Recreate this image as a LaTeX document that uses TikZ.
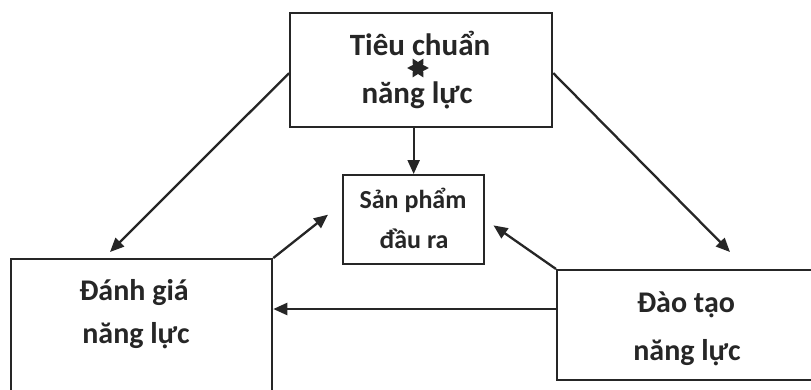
\documentclass[tikz,border=0pt]{standalone}
\usepackage{fontspec}
\setmainfont{Carlito}
\usetikzlibrary{arrows.meta,shapes.geometric,calc}
\definecolor{ink}{HTML}{262626}
\begin{document}
\begin{tikzpicture}[x=1pt,y=-1pt,
  box/.style={draw=ink,line width=2.3pt,rectangle,inner sep=0pt,anchor=north west},
  lbl/.style={anchor=base,inner sep=0pt,text=ink,font=\bfseries\fontsize{#1}{#1}\selectfont},
  arr/.style={draw=ink,line width=2.3pt,-{Triangle[length=14pt,width=12pt]}}]
\useasboundingbox (0,0) rectangle (811,389);
\clip (0,0) rectangle (811,389);
\fill[white] (0,0) rectangle (811,389);

% boxes
\node[box,minimum width=262pt,minimum height=114pt] (top) at (289,12) {};
\node[box,minimum width=141pt,minimum height=89pt] (mid) at (342,174) {};
\node[box,minimum width=261pt,minimum height=220pt] (lbox) at (10,258) {};
\node[box,minimum width=330pt,minimum height=110pt] (rbox) at (556,269) {};

% labels
\node[lbl=31] (t1) at (420,55) {Tiêu chuẩn};
\node[star,star points=6,star point ratio=0.55,fill=ink,minimum size=12pt,inner sep=0pt] (deco) at (418,68) {};
\node[lbl=31] (t2) at (417,103) {năng lực};
\node[lbl=26] (m1) at (413,208) {Sản phẩm};
\node[lbl=26] (m2) at (414,248) {đầu ra};
\node[lbl=30] (l1) at (134,300) {Đánh giá};
\node[lbl=30] (l2) at (136,343) {năng lực};
\node[lbl=30] (r1) at (686,312) {Đào tạo};
\node[lbl=30] (r2) at (687,360) {năng lực};

% connector ends
\coordinate (ltip) at ($(lbox.north west)+(100,-6)$);
\coordinate (rtip) at ($(rbox.north west)+(174,-17)$);
\coordinate (mtipl) at ($(mid.west)+(-14,-5)$);
\coordinate (hstart) at ([yshift=-40pt]rbox.north west);

% connectors
\draw[arr] ([yshift=-3pt]top.west) -- (ltip);
\draw[arr] ([yshift=-3pt]top.east) -- (rtip);
\draw[arr] (top.south -| mid.north) -- (mid.north);
\draw[arr] (lbox.north east) -- (mtipl);
\draw[arr,shorten >=10pt] (rbox.north west) -- (mid.east);
\draw[arr] (hstart) -- (hstart -| lbox.east);
\end{tikzpicture}
\end{document}
